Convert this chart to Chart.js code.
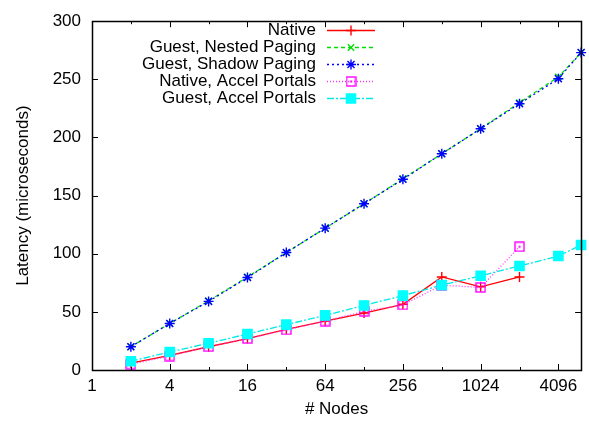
<!DOCTYPE html>
<html>
<head>
<meta charset="utf-8">
<script src="https://cdn.jsdelivr.net/npm/chart.js@4/dist/chart.umd.min.js"></script>
<style>
  html, body { margin: 0; padding: 0; background: #fff; }
  #wrap { width: 589px; height: 422px; }
</style>
</head>
<body>
<div id="wrap"><canvas id="c" width="589" height="422"></canvas></div>
<script>
// # nodes on the x axis (log2)
var nodes = [2, 4, 8, 16, 32, 64, 128, 256, 512, 1024, 2048, 4096, 6144];
var xTickValues = [1, 2, 4, 8, 16, 32, 64, 128, 256, 512, 1024, 2048, 4096];
var xTickLabels = ['1', '', '4', '', '16', '', '64', '', '256', '', '1024', '', '4096'];
var yTickValues = [0, 50, 100, 150, 200, 250, 300];

// latency in microseconds
var seriesNames = ['Native', 'Guest, Nested Paging', 'Guest, Shadow Paging', 'Native, Accel Portals', 'Guest, Accel Portals'];
var native = [6, 12.5, 20, 27, 35, 42, 49, 56.5, 80, 71.5, 80];
var nestedPaging = [20, 40, 59.5, 80, 101, 122, 143, 164.5, 186, 207.5, 230, 252, 273];
var shadowPaging = [20, 40, 59, 79.5, 101, 122, 143, 164, 186, 207.5, 229, 250.5, 273];
var nativeAccel = [5, 12, 20, 27, 34.5, 42, 50.5, 56, 73, 71, 106];
var guestAccel = [7.5, 15.5, 23, 31, 39, 47, 55.5, 64, 73, 81, 89.5, 98, 107.5];

var FONT = 'Arial, "Liberation Sans", sans-serif';
var FSIZE = 17;

function pts(vals) {
    return vals.map(function (v, i) { return { x: nodes[i], y: v }; });
}

// square outline with a dot in the middle (gnuplot point type 4-ish)
function boxDot(color) {
    var cv = document.createElement('canvas');
    cv.width = 11; cv.height = 11;
    var g = cv.getContext('2d');
    g.strokeStyle = color;
    g.lineWidth = 1.4;
    g.strokeRect(1, 1, 9, 9);
    g.fillStyle = color;
    g.fillRect(4.5, 4.5, 2, 2);
    return cv;
}

var styles = [
    { color: '#ff0000', dash: [], point: 'cross', radius: 5 },
    { color: '#00e000', dash: [4, 3], point: 'crossRot', radius: 4.5 },
    { color: '#0000ff', dash: [2, 3], point: 'star', radius: 5 },
    { color: '#ff33ff', dash: [1, 2], point: boxDot('#ff00ff'), radius: 5 },
    { color: '#00e8e8', dash: [7, 2, 2, 2], point: 'rect', radius: 6.5 }
];
var values = [native, nestedPaging, shadowPaging, nativeAccel, guestAccel];

var datasets = values.map(function (vals, i) {
    var s = styles[i];
    return {
        label: seriesNames[i],
        data: pts(vals),
        borderColor: s.color,
        backgroundColor: s.color,
        borderWidth: 1.3,
        borderDash: s.dash,
        pointStyle: s.point,
        pointRadius: s.radius,
        pointBorderWidth: 1.4,
        pointBackgroundColor: i === 4 ? '#00ffff' : s.color,
        pointBorderColor: i === 4 ? '#00ffff' : (i === 3 ? '#ff00ff' : s.color),
        tension: 0,
        clip: false,
        order: 5 - i
    };
});

var frame = {
    id: 'frame',
    afterDatasetsDraw: function (chart) {
        var ctx = chart.ctx, a = chart.chartArea;
        var xs = chart.scales.x, ys = chart.scales.y;
        ctx.save();
        ctx.strokeStyle = '#000';
        ctx.lineWidth = 1;
        ctx.setLineDash([]);
        ctx.beginPath();
        xs.ticks.forEach(function (t, i) {
            var px = Math.round(xs.getPixelForValue(t.value)) + 0.5;
            var len = xTickLabels[i] ? 6 : 3;
            ctx.moveTo(px, a.bottom); ctx.lineTo(px, a.bottom - len);
            ctx.moveTo(px, a.top); ctx.lineTo(px, a.top + len);
        });
        ys.ticks.forEach(function (t) {
            var py = Math.round(ys.getPixelForValue(t.value)) + 0.5;
            ctx.moveTo(a.left, py); ctx.lineTo(a.left + 6, py);
            ctx.moveTo(a.right, py); ctx.lineTo(a.right - 6, py);
        });
        ctx.stroke();
        ctx.lineWidth = 1.5;
        ctx.strokeRect(Math.round(a.left) + 0.5, Math.round(a.top) + 0.5,
            Math.round(a.right - a.left), Math.round(a.bottom - a.top));

        // legend, gnuplot style: right aligned text then a line sample
        var textRight = 316, x0 = 327, x1 = 375, y0 = 30, step = 17;
        ctx.font = FSIZE + 'px ' + FONT;
        ctx.textAlign = 'right';
        ctx.textBaseline = 'middle';
        chart.data.datasets.forEach(function (ds, i) {
            var y = y0 + i * step;
            ctx.fillStyle = '#000';
            ctx.fillText(ds.label, textRight, y);
            ctx.strokeStyle = ds.borderColor;
            ctx.lineWidth = ds.borderWidth;
            ctx.setLineDash(ds.borderDash);
            ctx.beginPath();
            ctx.moveTo(x0, y + 0.5); ctx.lineTo(x1, y + 0.5);
            ctx.stroke();
            ctx.setLineDash([]);
            ctx.strokeStyle = ds.pointBorderColor;
            ctx.fillStyle = ds.pointBackgroundColor;
            ctx.lineWidth = ds.pointBorderWidth;
            Chart.helpers.drawPoint(ctx, {
                pointStyle: ds.pointStyle, radius: ds.pointRadius, rotation: 0, borderWidth: ds.pointBorderWidth
            }, (x0 + x1) / 2, y + 0.5);
        });
        ctx.restore();
    }
};

new Chart(document.getElementById('c'), {
    type: 'line',
    data: { datasets: datasets },
    plugins: [frame],
    options: {
        responsive: false,
        animation: false,
        events: [],
        layout: { padding: { top: 16, right: 3, left: 0, bottom: 0 } },
        plugins: { legend: { display: false }, tooltip: { enabled: false } },
        scales: {
            x: {
                type: 'logarithmic',
                min: 1,
                max: 6144,
                grid: { display: false, drawTicks: false },
                border: { display: false },
                afterBuildTicks: function (scale) {
                    scale.ticks = xTickValues.map(function (v) { return { value: v }; });
                },
                afterFit: function (scale) { scale.height = 52; },
                ticks: {
                    autoSkip: false,
                    maxRotation: 0,
                    padding: 6,
                    color: '#000',
                    font: { family: FONT, size: FSIZE },
                    callback: function (v, i) { return xTickLabels[i]; }
                },
                title: {
                    display: true,
                    text: '# Nodes',
                    color: '#000',
                    font: { family: FONT, size: FSIZE },
                    padding: { top: 0, bottom: 2 }
                }
            },
            y: {
                min: 0,
                max: 300,
                grid: { display: false, drawTicks: false },
                border: { display: false },
                afterBuildTicks: function (scale) {
                    scale.ticks = yTickValues.map(function (v) { return { value: v }; });
                },
                afterFit: function (scale) { scale.width = 92; },
                ticks: {
                    padding: 11,
                    color: '#000',
                    font: { family: FONT, size: FSIZE }
                },
                title: {
                    display: true,
                    text: 'Latency (microseconds)',
                    color: '#000',
                    font: { family: FONT, size: FSIZE },
                    padding: { top: 13, bottom: 0 }
                }
            }
        }
    }
});
</script>
</body>
</html>
